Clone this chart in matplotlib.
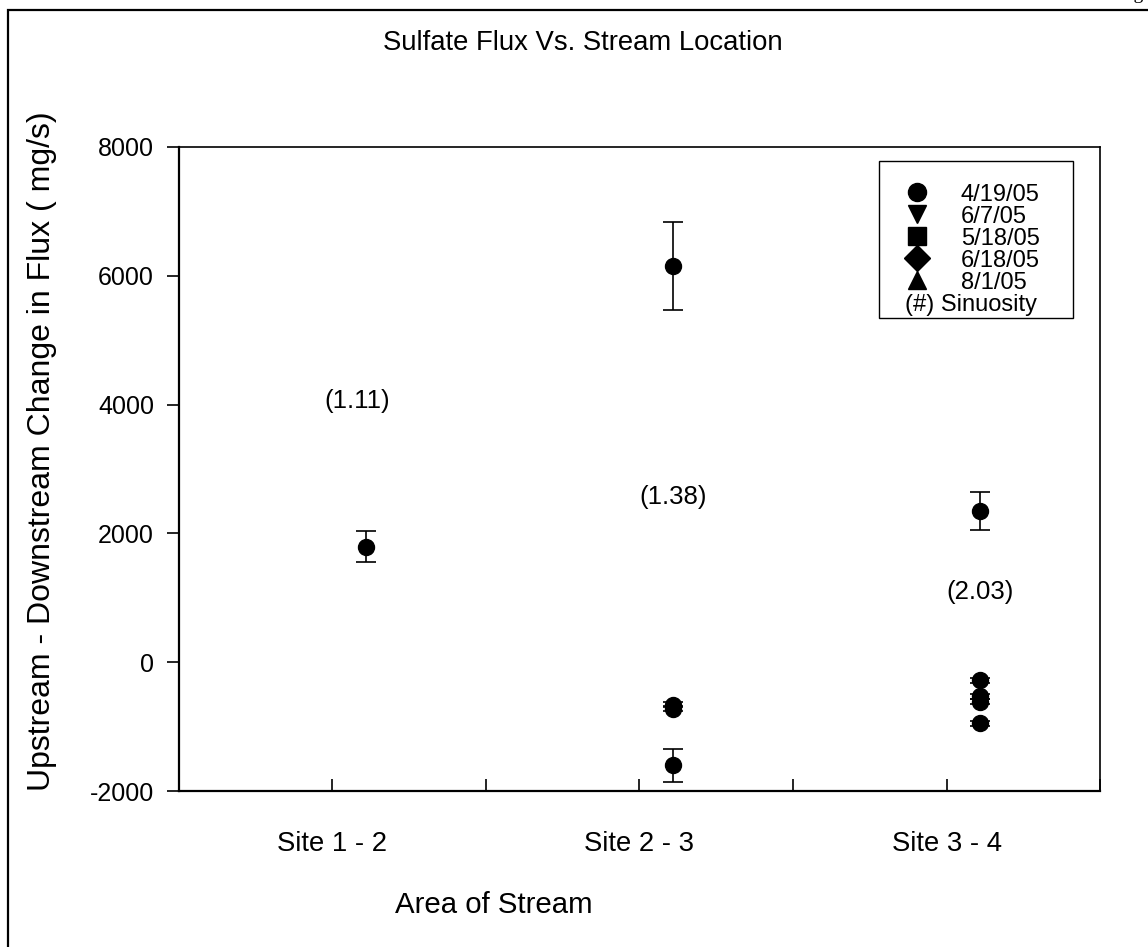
import numpy as np
import matplotlib.pyplot as plt
import matplotlib.transforms as mtransforms
from matplotlib.lines import Line2D
from matplotlib.patches import Rectangle

plt.rcParams['font.family'] = ['Liberation Sans', 'DejaVu Sans']
plt.rcParams['axes.unicode_minus'] = False

# data
sites = ['Site 1 - 2', 'Site 2 - 3', 'Site 3 - 4']
dates = ['4/19/05', '6/7/05', '5/18/05', '6/18/05', '8/1/05']
markers = ['o', 'v', 's', 'D', '^']

flux = {
    '4/19/05': [1790, 6150, 2350],
    '6/7/05':  [np.nan, -1600, -950],
    '5/18/05': [np.nan, -660, -280],
    '6/18/05': [np.nan, -720, -530],
    '8/1/05':  [np.nan, np.nan, -610],
}
err = {
    '4/19/05': [240, 680, 300],
    '6/7/05':  [0, 260, 40],
    '5/18/05': [0, 40, 40],
    '6/18/05': [0, 40, 40],
    '8/1/05':  [0, 0, 40],
}

sinuosity = ['(1.11)', '(1.38)', '(2.03)']
sin_x = [1.16, 3.22, 5.22]
sin_y = [4050, 2570, 1095]

site_pos = np.array([1, 3, 5])
offset = 0.22

fig = plt.figure(figsize=(11.48, 9.47), dpi=100)
ax = fig.add_axes([0.1559, 0.1647, 0.8023, 0.6801])

for d in dates:
    ax.errorbar(site_pos + offset, flux[d], yerr=err[d], fmt='o', color='black',
                markersize=11.5, capsize=7.5, elinewidth=1.2, capthick=1.2)

for s, x, y in zip(sinuosity, sin_x, sin_y):
    ax.text(x, y, s, ha='center', va='center', fontsize=18.5)

ax.set_xlim(0, 6)
ax.set_ylim(-2000, 8000)
ax.set_xticks(np.arange(0, 7))
ax.set_xticklabels(['', sites[0], '', sites[1], '', sites[2], ''])
ax.set_yticks(np.arange(-2000, 8001, 2000))
ax.tick_params(axis='x', direction='in', length=9, width=1.2, pad=29, labelsize=19.8)
ax.tick_params(axis='y', direction='out', length=9, width=1.2, pad=9, labelsize=18)
for sp in ax.spines.values():
    sp.set_linewidth(1.2)
ax.spines['left'].set_linewidth(1.6)
ax.spines['bottom'].set_linewidth(1.6)

# legend
handles = [Line2D([], [], marker=m, color='black', linestyle='none', markersize=13)
           for m in markers]
handles.append(Line2D([], [], linestyle='none'))
labels = dates + ['(#) Sinuosity']
leg = ax.legend(handles, labels, loc='upper left', bbox_to_anchor=(0.7885, 0.943),
                fontsize=17, frameon=False, labelspacing=0.0,
                handletextpad=1.36, borderpad=0, borderaxespad=0,
                handlelength=1.0)
t = leg.get_texts()[-1]
t.set_transform(t.get_transform() +
                mtransforms.ScaledTranslation(-0.56, 0, fig.dpi_scale_trans))
ax.add_patch(Rectangle((0.760, 0.7345), 0.2107, 0.2435, transform=ax.transAxes,
                       fill=False, edgecolor='black', linewidth=1.0, zorder=5))

fig.text(583 / 1148, 1 - 43 / 947, 'Sulfate Flux Vs. Stream Location',
         ha='center', va='center', fontsize=19.8)
fig.text(494 / 1148, 1 - 905 / 947, 'Area of Stream',
         ha='center', va='center', fontsize=21.2)
fig.text(42 / 1148, 1 - 451 / 947, 'Upstream - Downstream Change in Flux ( mg/s)',
         ha='center', va='center', rotation=90, fontsize=23)

# outer page frame
fig.add_artist(Rectangle((8 / 1148, -0.1), 1.2, 1.1 - 10 / 947,
                         transform=fig.transFigure, fill=False,
                         edgecolor='black', linewidth=1.6))
fig.text(1.004, 1.0015, 'Page', ha='right', va='baseline', fontsize=14,
         family='Liberation Serif')

fig.savefig('out.png', dpi=100)
